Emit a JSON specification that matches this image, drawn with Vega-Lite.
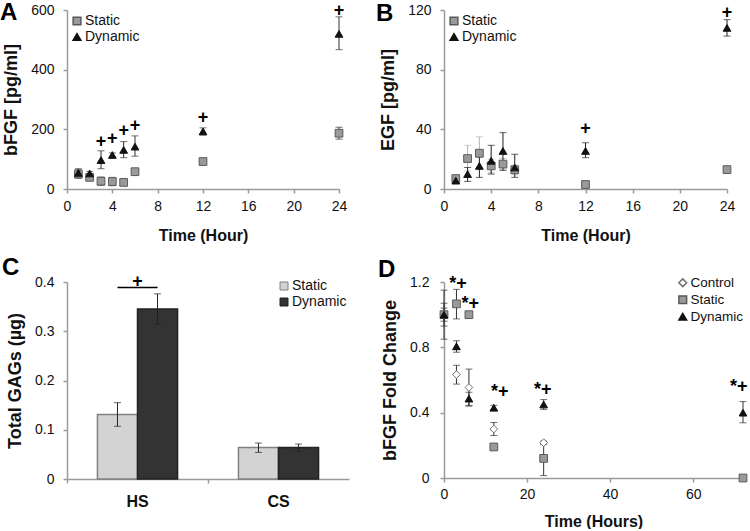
{
  "$schema": "https://vega.github.io/schema/vega-lite/v6.json",
  "padding": {"left": 0, "top": 0, "right": 0, "bottom": 0},
  "background": "white",
  "config": {
    "font": "Liberation Sans",
    "view": {"stroke": null},
    "axis": {"domainColor": "#9a9a9a", "domainWidth": 1.5, "tickColor": "#9a9a9a", "tickWidth": 1.5, "tickSize": 4, "labelFontSize": 14, "labelColor": "#111", "titleFontWeight": "bold", "titleColor": "#111", "grid": false, "labelFont": "Liberation Sans", "titleFont": "Liberation Sans", "labelFlush": false},
    "axisX": {"labelPadding": 6, "titleFontSize": 16, "titlePadding": 14},
    "axisY": {"labelPadding": 9, "titleFontSize": 18, "titlePadding": 10},
    "legend": {"labelFontSize": 14, "labelColor": "#111", "labelFont": "Liberation Sans"},
    "title": {"font": "Liberation Sans"}
  },
  "datasets": {
    "A": [
      {"t": 1, "series": "Static", "v": 50, "lo": 36, "hi": 64},
      {"t": 2, "series": "Static", "v": 39, "lo": 31, "hi": 47},
      {"t": 3, "series": "Static", "v": 26, "lo": 12, "hi": 40},
      {"t": 4, "series": "Static", "v": 25, "lo": 11, "hi": 39},
      {"t": 5, "series": "Static", "v": 22, "lo": 19, "hi": 25},
      {"t": 6, "series": "Static", "v": 58, "lo": 54, "hi": 62},
      {"t": 12, "series": "Static", "v": 92, "lo": 88, "hi": 96},
      {"t": 24, "series": "Static", "v": 187, "lo": 167, "hi": 207},
      {"t": 1, "series": "Dynamic", "v": 54, "lo": 40, "hi": 68},
      {"t": 2, "series": "Dynamic", "v": 52, "lo": 45, "hi": 59},
      {"t": 3, "series": "Dynamic", "v": 97, "lo": 68, "hi": 128},
      {"t": 4, "series": "Dynamic", "v": 114, "lo": 107, "hi": 121},
      {"t": 5, "series": "Dynamic", "v": 131, "lo": 105, "hi": 159},
      {"t": 6, "series": "Dynamic", "v": 142, "lo": 110, "hi": 178},
      {"t": 12, "series": "Dynamic", "v": 193, "lo": 181, "hi": 205},
      {"t": 24, "series": "Dynamic", "v": 520, "lo": 467, "hi": 577}
    ],
    "Aplus": [
      {"t": 3, "v": 157, "label": "+"},
      {"t": 4, "v": 168, "label": "+"},
      {"t": 5, "v": 196, "label": "+"},
      {"t": 6, "v": 211, "label": "+"},
      {"t": 12, "v": 239, "label": "+"},
      {"t": 24, "v": 598, "label": "+"}
    ],
    "B": [
      {"t": 1, "series": "Static", "v": 7, "lo": 5.5, "hi": 8.5},
      {"t": 2, "series": "Static", "v": 20.4, "lo": 12, "hi": 29.3},
      {"t": 3, "series": "Static", "v": 24, "lo": 13, "hi": 35},
      {"t": 4, "series": "Static", "v": 15.5, "lo": 11, "hi": 20},
      {"t": 5, "series": "Static", "v": 16.7, "lo": 13, "hi": 20.5},
      {"t": 6, "series": "Static", "v": 12.9, "lo": 9.5, "hi": 16},
      {"t": 12, "series": "Static", "v": 3, "lo": 2, "hi": 4},
      {"t": 24, "series": "Static", "v": 13, "lo": 12, "hi": 14},
      {"t": 1, "series": "Dynamic", "v": 5.6, "lo": 4, "hi": 7},
      {"t": 2, "series": "Dynamic", "v": 10, "lo": 5.1, "hi": 14.4},
      {"t": 3, "series": "Dynamic", "v": 15.5, "lo": 7.8, "hi": 21.5},
      {"t": 4, "series": "Dynamic", "v": 18.9, "lo": 10, "hi": 29.3},
      {"t": 5, "series": "Dynamic", "v": 25.5, "lo": 12.5, "hi": 37.8},
      {"t": 6, "series": "Dynamic", "v": 14.4, "lo": 7.8, "hi": 23.3},
      {"t": 12, "series": "Dynamic", "v": 25.5, "lo": 21, "hi": 31},
      {"t": 24, "series": "Dynamic", "v": 108, "lo": 102.5, "hi": 113.5}
    ],
    "Bplus": [
      {"t": 12, "v": 40.5, "label": "+"},
      {"t": 24, "v": 118, "label": "+"}
    ],
    "C": [
      {"cat": "HS", "series": "Static", "v": 0.131, "lo": 0.107, "hi": 0.155},
      {"cat": "HS", "series": "Dynamic", "v": 0.345, "lo": 0.314, "hi": 0.376},
      {"cat": "CS", "series": "Static", "v": 0.064, "lo": 0.054, "hi": 0.073},
      {"cat": "CS", "series": "Dynamic", "v": 0.064, "lo": 0.056, "hi": 0.071}
    ],
    "Cline": [
      {"cat": "HS", "series": "Static", "v": 0.389},
      {"cat": "HS", "series": "Dynamic", "v": 0.389}
    ],
    "Cplus": [
      {"cat": "HS", "v": 0.4, "label": "+"}
    ],
    "D": [
      {"t": 0, "series": "Control", "v": 1.0, "lo": 0.96, "hi": 1.04},
      {"t": 3, "series": "Control", "v": 0.633, "lo": 0.575, "hi": 0.69},
      {"t": 6, "series": "Control", "v": 0.554, "lo": 0.44, "hi": 0.667},
      {"t": 12, "series": "Control", "v": 0.3, "lo": 0.26, "hi": 0.34},
      {"t": 24, "series": "Control", "v": 0.216, "lo": 0.206, "hi": 0.226},
      {"t": 0, "series": "Static", "v": 1.0, "lo": 0.85, "hi": 1.15},
      {"t": 3, "series": "Static", "v": 1.066, "lo": 0.974, "hi": 1.155},
      {"t": 6, "series": "Static", "v": 1.0, "lo": 0.99, "hi": 1.01},
      {"t": 12, "series": "Static", "v": 0.19, "lo": 0.18, "hi": 0.2},
      {"t": 24, "series": "Static", "v": 0.12, "lo": 0.015, "hi": 0.215},
      {"t": 72, "series": "Static", "v": 0, "lo": 0, "hi": 0},
      {"t": 0, "series": "Dynamic", "v": 1.0, "lo": 0.93, "hi": 1.07},
      {"t": 3, "series": "Dynamic", "v": 0.806, "lo": 0.77, "hi": 0.84},
      {"t": 6, "series": "Dynamic", "v": 0.486, "lo": 0.445, "hi": 0.525},
      {"t": 12, "series": "Dynamic", "v": 0.43, "lo": 0.415, "hi": 0.445},
      {"t": 24, "series": "Dynamic", "v": 0.45, "lo": 0.42, "hi": 0.48},
      {"t": 72, "series": "Dynamic", "v": 0.4, "lo": 0.338, "hi": 0.468}
    ],
    "Dstar": [
      {"t": 3.4, "v": 1.19, "label": "*+"},
      {"t": 6.3, "v": 1.065, "label": "*+"},
      {"t": 13.4, "v": 0.524, "label": "*+"},
      {"t": 23.8, "v": 0.54, "label": "*+"},
      {"t": 71, "v": 0.56, "label": "*+"}
    ]
  },
  "columns": 2,
  "spacing": {"row": 93, "column": 95},
  "bounds": "flush",
  "resolve": {
    "scale": {"fill": "independent", "stroke": "independent", "shape": "independent", "x": "independent", "y": "independent", "xOffset": "independent"},
    "legend": {"fill": "independent", "stroke": "independent", "shape": "independent"}
  },
  "concat": [
    {
      "width": 272, "height": 179,
      "title": {"text": "A", "anchor": "start", "frame": "group", "dx": -67, "offset": -42, "fontSize": 24, "fontWeight": "bold", "baseline": "alphabetic", "color": "#000"},
      "data": {"name": "A"},
      "encoding": {"x": {"field": "t", "type": "quantitative", "scale": {"domain": [0, 24], "nice": false}, "axis": {"values": [0, 4, 8, 12, 16, 20, 24]}, "title": "Time (Hour)"}},
      "layer": [
        {"mark": {"type": "errorbar", "color": "#333", "ticks": true, "size": 7, "thickness": 1},
         "encoding": {"y": {"field": "lo", "type": "quantitative", "scale": {"domain": [0, 600], "nice": false}, "axis": {"values": [0, 200, 400, 600]}, "title": "bFGF [pg/ml]"}, "y2": {"field": "hi"}}},
        {"mark": {"type": "point", "filled": true, "size": 60, "strokeWidth": 1, "opacity": 1},
         "encoding": {
           "y": {"field": "v", "type": "quantitative", "title": "bFGF [pg/ml]"},
           "fill": {"field": "series", "type": "nominal", "scale": {"domain": ["Static", "Dynamic"], "range": ["#9a9a9a", "#111111"]}, "legend": {"orient": "none", "legendX": 3, "legendY": 4, "title": null, "symbolSize": 60, "rowPadding": 2, "labelOffset": 1}},
           "stroke": {"field": "series", "type": "nominal", "scale": {"domain": ["Static", "Dynamic"], "range": ["#5a5a5a", "#111111"]}, "legend": {"orient": "none", "legendX": 3, "legendY": 4, "title": null, "symbolSize": 60, "rowPadding": 2, "labelOffset": 1}},
           "shape": {"field": "series", "type": "nominal", "scale": {"domain": ["Static", "Dynamic"], "range": ["square", "triangle-up"]}, "legend": {"orient": "none", "legendX": 3, "legendY": 4, "title": null, "symbolSize": 60, "rowPadding": 2, "labelOffset": 1}}
         }},
        {"data": {"name": "Aplus"}, "mark": {"type": "text", "fontSize": 18, "fontWeight": "bold", "baseline": "middle", "color": "#000"},
         "encoding": {"y": {"field": "v", "type": "quantitative", "title": "bFGF [pg/ml]"}, "text": {"field": "label"}}}
      ]
    },
    {
      "width": 283, "height": 179,
      "title": {"text": "B", "anchor": "start", "frame": "group", "dx": -68, "offset": -42, "fontSize": 24, "fontWeight": "bold", "baseline": "alphabetic", "color": "#000"},
      "data": {"name": "B"},
      "encoding": {"x": {"field": "t", "type": "quantitative", "scale": {"domain": [0, 24], "nice": false}, "axis": {"values": [0, 4, 8, 12, 16, 20, 24]}, "title": "Time (Hour)"}},
      "layer": [
        {"transform": [{"filter": "datum.series == 'Static'"}],
         "mark": {"type": "errorbar", "color": "#b5b5b5", "ticks": true, "size": 7, "thickness": 1},
         "encoding": {"y": {"field": "lo", "type": "quantitative", "scale": {"domain": [0, 120], "nice": false}, "axis": {"values": [0, 40, 80, 120]}, "title": "EGF [pg/ml]"}, "y2": {"field": "hi"}}},
        {"transform": [{"filter": "datum.series == 'Dynamic'"}],
         "mark": {"type": "errorbar", "color": "#222", "ticks": true, "size": 7, "thickness": 1},
         "encoding": {"y": {"field": "lo", "type": "quantitative", "title": "EGF [pg/ml]"}, "y2": {"field": "hi"}}},
        {"mark": {"type": "point", "filled": true, "size": 60, "strokeWidth": 1, "opacity": 1},
         "encoding": {
           "y": {"field": "v", "type": "quantitative", "title": "EGF [pg/ml]"},
           "fill": {"field": "series", "type": "nominal", "scale": {"domain": ["Static", "Dynamic"], "range": ["#9a9a9a", "#111111"]}, "legend": {"orient": "none", "legendX": 3, "legendY": 4, "title": null, "symbolSize": 60, "rowPadding": 2, "labelOffset": 1}},
           "stroke": {"field": "series", "type": "nominal", "scale": {"domain": ["Static", "Dynamic"], "range": ["#5a5a5a", "#111111"]}, "legend": {"orient": "none", "legendX": 3, "legendY": 4, "title": null, "symbolSize": 60, "rowPadding": 2, "labelOffset": 1}},
           "shape": {"field": "series", "type": "nominal", "scale": {"domain": ["Static", "Dynamic"], "range": ["square", "triangle-up"]}, "legend": {"orient": "none", "legendX": 3, "legendY": 4, "title": null, "symbolSize": 60, "rowPadding": 2, "labelOffset": 1}}
         }},
        {"data": {"name": "Bplus"}, "mark": {"type": "text", "fontSize": 18, "fontWeight": "bold", "baseline": "middle", "color": "#000"},
         "encoding": {"y": {"field": "v", "type": "quantitative", "title": "EGF [pg/ml]"}, "text": {"field": "label"}}}
      ]
    },
    {
      "width": 282, "height": 197,
      "title": {"text": "C", "anchor": "start", "frame": "group", "dx": -65, "offset": -26, "fontSize": 24, "fontWeight": "bold", "baseline": "alphabetic", "color": "#000"},
      "data": {"name": "C"},
      "encoding": {"x": {"field": "cat", "type": "nominal", "sort": ["HS", "CS"], "scale": {"paddingInner": 0, "paddingOuter": 0}, "axis": {"title": null, "labelAngle": 0, "labelFontWeight": "bold", "labelFontSize": 16, "bandPosition": 0, "labelPadding": 10, "labelColor": "#111"}}},
      "layer": [
        {"mark": {"type": "bar", "strokeWidth": 1.5},
         "encoding": {
           "xOffset": {"field": "series", "type": "nominal", "sort": ["Static", "Dynamic"], "scale": {"paddingOuter": 0.76, "paddingInner": 0}},
           "y": {"field": "v", "type": "quantitative", "scale": {"domain": [0, 0.4], "nice": false}, "axis": {"values": [0, 0.1, 0.2, 0.3, 0.4], "labelExpr": "datum.value == 0 ? '0' : format(datum.value, '.1f')"}, "title": "Total GAGs (µg)"},
           "fill": {"field": "series", "type": "nominal", "scale": {"domain": ["Static", "Dynamic"], "range": ["#d3d3d3", "#333333"]}, "legend": {"orient": "none", "legendX": 210, "legendY": -3, "title": null, "symbolType": "square", "symbolSize": 64, "rowPadding": 2, "labelOffset": 1, "symbolStrokeWidth": 1}},
           "stroke": {"field": "series", "type": "nominal", "scale": {"domain": ["Static", "Dynamic"], "range": ["#808080", "#222222"]}, "legend": {"orient": "none", "legendX": 210, "legendY": -3, "title": null, "symbolType": "square", "symbolSize": 64, "rowPadding": 2, "labelOffset": 1, "symbolStrokeWidth": 1}}
         }},
        {"mark": {"type": "rule", "color": "#222", "strokeWidth": 1},
         "encoding": {"xOffset": {"field": "series", "type": "nominal", "sort": ["Static", "Dynamic"]}, "y": {"field": "lo", "type": "quantitative", "title": "Total GAGs (µg)"}, "y2": {"field": "hi"}}},
        {"mark": {"type": "tick", "color": "#222", "thickness": 1, "size": 7, "orient": "horizontal"},
         "encoding": {"xOffset": {"field": "series", "type": "nominal", "sort": ["Static", "Dynamic"]}, "y": {"field": "lo", "type": "quantitative", "title": "Total GAGs (µg)"}}},
        {"mark": {"type": "tick", "color": "#222", "thickness": 1, "size": 7, "orient": "horizontal"},
         "encoding": {"xOffset": {"field": "series", "type": "nominal", "sort": ["Static", "Dynamic"]}, "y": {"field": "hi", "type": "quantitative", "title": "Total GAGs (µg)"}}},
        {"data": {"name": "Cline"}, "mark": {"type": "line", "color": "#000", "strokeWidth": 1.5},
         "encoding": {"xOffset": {"field": "series", "type": "nominal", "sort": ["Static", "Dynamic"]}, "y": {"field": "v", "type": "quantitative", "title": "Total GAGs (µg)"}}},
        {"data": {"name": "Cplus"}, "mark": {"type": "text", "fontSize": 18, "fontWeight": "bold", "baseline": "middle", "color": "#000"},
         "encoding": {"y": {"field": "v", "type": "quantitative", "title": "Total GAGs (µg)"}, "text": {"field": "label"}}}
      ]
    },
    {
      "width": 299, "height": 196,
      "title": {"text": "D", "anchor": "start", "frame": "group", "dx": -66, "offset": -26, "fontSize": 24, "fontWeight": "bold", "baseline": "alphabetic", "color": "#000"},
      "data": {"name": "D"},
      "encoding": {"x": {"field": "t", "type": "quantitative", "scale": {"domain": [0, 72], "nice": false}, "axis": {"values": [0, 20, 40, 60], "labelPadding": 5, "titlePadding": 12}, "title": "Time (Hours)"}},
      "layer": [
        {"mark": {"type": "errorbar", "color": "#333", "ticks": true, "size": 7, "thickness": 1},
         "encoding": {"y": {"field": "lo", "type": "quantitative", "scale": {"domain": [0, 1.2], "nice": false}, "axis": {"values": [0, 0.4, 0.8, 1.2], "labelExpr": "datum.value == 0 ? '0' : format(datum.value, '.1f')", "labelPadding": 11}, "title": "bFGF Fold Change"}, "y2": {"field": "hi"}}},
        {"mark": {"type": "point", "filled": true, "size": 60, "strokeWidth": 1, "opacity": 1},
         "encoding": {
           "y": {"field": "v", "type": "quantitative", "title": "bFGF Fold Change"},
           "fill": {"field": "series", "type": "nominal", "scale": {"domain": ["Control", "Static", "Dynamic"], "range": ["#ffffff", "#9a9a9a", "#111111"]}, "legend": {"orient": "none", "legendX": 232, "legendY": -6, "title": null, "symbolSize": 60, "rowPadding": 2, "labelOffset": 1, "labelFontSize": 13.5}},
           "stroke": {"field": "series", "type": "nominal", "scale": {"domain": ["Control", "Static", "Dynamic"], "range": ["#707070", "#5a5a5a", "#111111"]}, "legend": {"orient": "none", "legendX": 232, "legendY": -6, "title": null, "symbolSize": 60, "rowPadding": 2, "labelOffset": 1, "labelFontSize": 13.5}},
           "shape": {"field": "series", "type": "nominal", "scale": {"domain": ["Control", "Static", "Dynamic"], "range": ["diamond", "square", "triangle-up"]}, "legend": {"orient": "none", "legendX": 232, "legendY": -6, "title": null, "symbolSize": 60, "rowPadding": 2, "labelOffset": 1, "labelFontSize": 13.5}}
         }},
        {"data": {"name": "Dstar"}, "mark": {"type": "text", "fontSize": 18, "fontWeight": "bold", "baseline": "middle", "color": "#000"},
         "encoding": {"y": {"field": "v", "type": "quantitative", "title": "bFGF Fold Change"}, "text": {"field": "label"}}}
      ]
    }
  ]
}
